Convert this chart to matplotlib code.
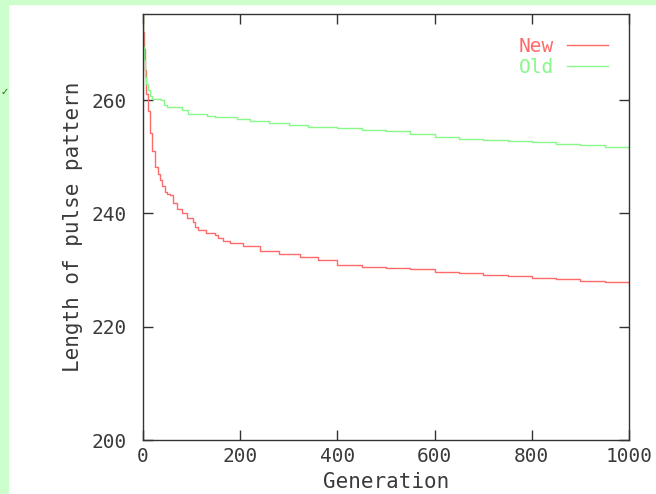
import matplotlib.pyplot as plt
from matplotlib.patches import Rectangle

# generation -> best pattern length
new_gen = [0, 1, 2, 4, 7, 10, 14, 19, 25, 30, 35, 40, 45, 50, 56, 62, 70, 80, 90, 103, 108,
           113, 130, 148, 154, 165, 179, 206, 240, 280, 323, 360, 400, 450, 500, 550, 600,
           650, 700, 750, 800, 850, 900, 950, 1000]
new_len = [275, 272, 269, 265.3, 261, 258, 254.2, 251, 248.2, 247, 245.9, 244.8, 243.8, 243.5,
           243.2, 241.8, 240.8, 240.0, 239.2, 238.5, 237.6, 237.1, 236.6, 236.2, 235.7, 235.2,
           234.8, 234.2, 233.4, 232.9, 232.3, 231.8, 230.9, 230.5, 230.3, 230.1, 229.7, 229.5,
           229.2, 228.9, 228.6, 228.4, 228.1, 227.9, 227.7]
old_gen = [0, 1, 2, 4, 7, 10, 14, 18, 38, 44, 49, 80, 93, 132, 148, 193, 220, 260, 300, 340,
           400, 450, 500, 550, 600, 650, 700, 750, 800, 850, 900, 950, 1000]
old_len = [275, 269.4, 267, 264.1, 262.8, 261.8, 260.8, 260.2, 260.0, 259.2, 258.8, 258.3,
           257.5, 257.2, 257.0, 256.7, 256.3, 256.0, 255.6, 255.3, 255.1, 254.8, 254.5, 254.0,
           253.5, 253.2, 253.0, 252.8, 252.6, 252.3, 252.0, 251.7, 251.5]

FONT = "DejaVu Sans Mono"
FS = 15
TXT = "#3a3a3a"
plt.rcParams["font.family"] = FONT

fig = plt.figure(figsize=(6.56, 4.94), dpi=100, facecolor="white")
# light green page strips on the left and top
fig.patches.append(Rectangle((0, 0), 8 / 656, 1, transform=fig.transFigure,
                             color="#ccffcc", zorder=-1))
fig.patches.append(Rectangle((0, 1 - 4 / 494), 1, 4 / 494, transform=fig.transFigure,
                             color="#ccffcc", zorder=-1))
fig.text(1 / 656, 1 - 92 / 494, "\u2713", color="#116611", fontsize=7,
         family="DejaVu Sans", va="center", ha="left")

ax = fig.add_axes([143 / 656, 54 / 494, 486 / 656, 426 / 494])
ax.plot(new_gen, new_len, color="#ff6a6a", lw=1, drawstyle="steps-post", label="New")
ax.plot(old_gen, old_len, color="#88f888", lw=1, drawstyle="steps-post", label="Old")

ax.set_xlim(0, 1000)
ax.set_ylim(200, 275.2)
ax.set_xticks([0, 200, 400, 600, 800, 1000])
ax.set_yticks([200, 220, 240, 260])
ax.tick_params(direction="in", length=7, width=1, color="#333333", top=True, right=True,
               labelsize=FS - 1, labelcolor=TXT)
ax.tick_params(axis="y", pad=12)
ax.tick_params(axis="x", pad=5)
for s in ax.spines.values():
    s.set_color("#333333")
    s.set_linewidth(1)

ax.set_xlabel("Generation", fontsize=FS, color=TXT, labelpad=4)
ax.set_ylabel("Length of pulse pattern", fontsize=FS, color=TXT, labelpad=6)

ax.legend(loc="upper right", bbox_to_anchor=(0.985, 0.978), frameon=False, markerfirst=False,
          labelcolor="linecolor", fontsize=FS - 1, handlelength=2.1, handletextpad=0.7,
          labelspacing=0.1, borderaxespad=0.3)

fig.savefig("out.png", dpi=100, facecolor="white")
